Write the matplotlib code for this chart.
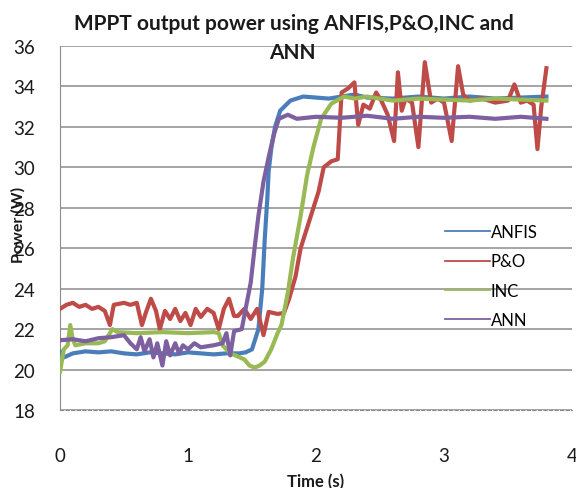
import matplotlib
matplotlib.use("Agg")
import matplotlib.pyplot as plt

plt.rcParams['font.family'] = ['Lato', 'DejaVu Sans']

# ---------------- data ----------------
anfis_t = [0, 0.03, 0.1, 0.2, 0.3, 0.4, 0.5, 0.6, 0.7, 0.8, 0.9, 1.0, 1.1, 1.2, 1.3, 1.4,
           1.45, 1.5, 1.55, 1.58, 1.6, 1.62, 1.63, 1.65, 1.68, 1.72, 1.8, 1.9, 2.0, 2.1,
           2.2, 2.3, 2.4, 2.6, 2.8, 3.0, 3.2, 3.4, 3.6, 3.8]
anfis_p = [20.9, 20.6, 20.8, 20.9, 20.85, 20.9, 20.8, 20.75, 20.85, 20.8, 20.75, 20.85, 20.8,
           20.75, 20.8, 20.8, 20.85, 21.0, 22.0, 24.0, 26.5, 28.5, 29.8, 30.9, 32.0, 32.8,
           33.3, 33.5, 33.45, 33.4, 33.5, 33.6, 33.45, 33.4, 33.5, 33.4, 33.5, 33.4, 33.45, 33.5]

po_t = [0, 0.05, 0.1, 0.15, 0.2, 0.25, 0.3, 0.35, 0.39, 0.42, 0.5, 0.55, 0.6, 0.64, 0.67,
        0.71, 0.75, 0.78, 0.82, 0.86, 0.9, 0.94, 0.98, 1.02, 1.06, 1.1, 1.15, 1.2, 1.24,
        1.28, 1.32, 1.36, 1.39, 1.44, 1.49, 1.54, 1.59, 1.63, 1.7, 1.75, 1.79, 1.84, 1.88,
        1.96, 2.02, 2.06, 2.12, 2.17, 2.18, 2.2, 2.25, 2.3, 2.33, 2.37, 2.42, 2.47, 2.51,
        2.56, 2.61, 2.64, 2.67, 2.7, 2.75, 2.8, 2.85, 2.9, 2.95, 3.0, 3.06, 3.11, 3.15,
        3.2, 3.3, 3.4, 3.5, 3.55, 3.6, 3.65, 3.7, 3.73, 3.76, 3.8]
po_p = [23.0, 23.2, 23.3, 23.1, 23.2, 23.0, 23.1, 22.9, 22.2, 23.2, 23.3, 23.2, 23.3, 22.2,
        22.8, 23.5, 22.9, 22.0, 22.9, 22.5, 23.0, 22.4, 22.8, 22.2, 23.0, 22.6, 23.0, 22.8,
        22.0, 23.0, 23.5, 22.65, 22.65, 23.0, 22.5, 23.0, 21.7, 22.85, 22.75, 22.8, 23.5,
        24.6, 26.0, 27.6, 28.8, 30.0, 30.3, 30.4, 31.5, 33.7, 33.9, 34.2, 32.1, 33.1, 32.9,
        33.7, 33.3, 32.6, 31.3, 34.7, 32.8, 33.4, 33.2, 31.0, 35.2, 33.2, 33.4, 33.2, 31.3,
        35.0, 33.6, 33.3, 33.4, 33.2, 33.3, 34.1, 33.2, 33.3, 33.1, 30.9, 33.0, 34.9]

inc_t = [0, 0.03, 0.06, 0.08, 0.1, 0.12, 0.2, 0.3, 0.35, 0.41, 0.45, 0.6, 0.8, 1.0, 1.2,
         1.24, 1.27, 1.33, 1.37, 1.44, 1.48, 1.52, 1.56, 1.6, 1.65, 1.7, 1.73, 1.78, 1.82,
         1.88, 1.93, 1.98, 2.04, 2.12, 2.22, 2.3, 2.4, 2.6, 2.8, 3.0, 3.2, 3.4, 3.6, 3.8]
inc_p = [19.9, 21.0, 21.2, 22.2, 21.5, 21.2, 21.3, 21.3, 21.4, 22.0, 21.85, 21.8, 21.85,
         21.8, 21.85, 21.8, 21.2, 20.8, 20.7, 20.5, 20.2, 20.1, 20.2, 20.4, 21.0, 21.8, 22.2,
         23.8, 25.5, 27.6, 29.6, 31.0, 32.4, 33.15, 33.5, 33.4, 33.5, 33.3, 33.4, 33.35,
         33.3, 33.4, 33.35, 33.3]

ann_t = [0, 0.1, 0.2, 0.3, 0.4, 0.5, 0.55, 0.6, 0.63, 0.66, 0.7, 0.73, 0.76, 0.8, 0.83,
         0.86, 0.9, 0.93, 0.96, 1.0, 1.05, 1.1, 1.2, 1.27, 1.3, 1.33, 1.36, 1.42, 1.45,
         1.49, 1.52, 1.55, 1.59, 1.63, 1.67, 1.71, 1.78, 1.85, 2.0, 2.2, 2.4, 2.6, 2.8,
         3.0, 3.2, 3.4, 3.6, 3.8]
ann_p = [21.45, 21.5, 21.4, 21.55, 21.6, 21.7, 21.3, 21.0, 21.6, 20.9, 21.5, 20.6, 21.3,
         20.2, 21.4, 20.7, 21.3, 20.8, 21.2, 21.0, 21.3, 21.1, 21.2, 21.3, 21.8, 20.7, 21.9,
         22.0, 23.0, 24.3, 26.0, 27.6, 29.3, 30.5, 31.6, 32.4, 32.6, 32.4, 32.5, 32.45,
         32.55, 32.4, 32.5, 32.45, 32.5, 32.4, 32.5, 32.4]

series_labels = ['ANFIS', 'P&O', 'INC', 'ANN']
x_ticks = [0, 1, 2, 3, 4]
y_ticks = [18, 20, 22, 24, 26, 28, 30, 32, 34, 36]

colors = ['#4A7EBB', '#BE4B48', '#98B954', '#7D60A0']

# ---------------- figure ----------------
fig = plt.figure(figsize=(5.76, 4.89), dpi=100)
ax = fig.add_axes([60 / 576, 1 - 411 / 489, 512 / 576, (411 - 47) / 489])

for t, p, lab, c in zip([anfis_t, po_t, inc_t, ann_t], [anfis_p, po_p, inc_p, ann_p],
                        series_labels, colors):
    ax.plot(t, p, color=c, lw=3.0, label=lab, solid_joinstyle='round', zorder=3)

ax.set_xlim(0, 4)
ax.set_ylim(18, 36)
ax.set_xticks(x_ticks)
ax.set_yticks(y_ticks)
ax.yaxis.grid(True, color='#8C8C8C', lw=1.1)
ax.set_axisbelow(True)
for s in ['top', 'right']:
    ax.spines[s].set_visible(False)
ax.spines['left'].set_color('#8C8C8C')
ax.spines['bottom'].set_color('#8C8C8C')
ax.spines['bottom'].set_linestyle((0, (3, 2)))
ax.tick_params(axis='both', length=0, labelsize=13.5, colors='#1a1a1a')
ax.tick_params(axis='y', pad=18)
ax.tick_params(axis='x', pad=27)

ax.set_xlabel('Time (s)', fontsize=12, fontweight='bold', labelpad=6, color='#1a1a1a')
fig.text(18 / 576, 1 - 225 / 489, 'Power (W)', rotation=90, ha='center', va='center',
         fontsize=11.5, fontweight='bold', color='#1a1a1a')

fig.text(294 / 576, 1 - 30 / 489, 'MPPT output power using ANFIS,P&O,INC and',
         ha='center', va='baseline', fontsize=15, fontweight='bold', color='#1a1a1a')
fig.text(292 / 576, 1 - 59 / 489, 'ANN', ha='center', va='baseline', fontsize=15,
         fontweight='bold', color='#1a1a1a')

leg = ax.legend(loc='center left', bbox_to_anchor=(0.752, 0.368), frameon=False,
                fontsize=12, handlelength=2.7, handletextpad=0.05, labelspacing=0.8,
                borderpad=0, borderaxespad=0)
for ln in leg.get_lines():
    ln.set_linewidth(1.3)

fig.savefig('out.png', dpi=100)
